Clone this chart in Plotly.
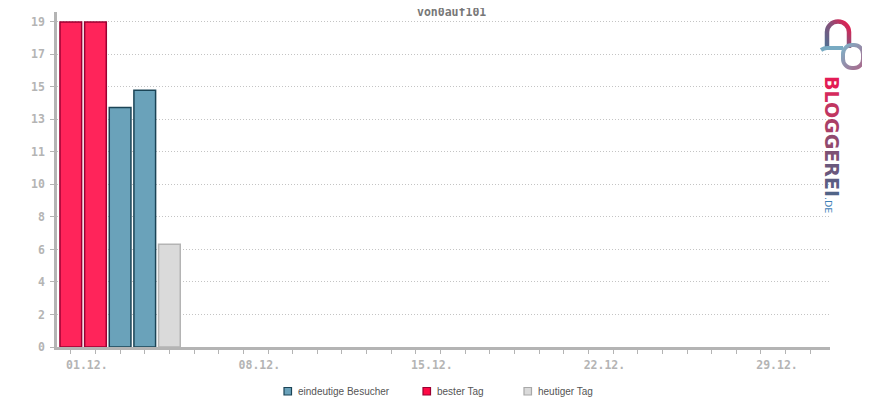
import base64
import plotly.graph_objects as go

# ---- data ----
title_text = "von0auf101"
days = list(range(1, 32))
best_days = [1, 2]
best_vals = [19, 19]
visitor_days = [3, 4]
visitor_vals = [14, 15]
today_days = [5]
today_vals = [6]
x_label_days = [1, 8, 15, 22, 29]
x_labels = ["01.12.", "08.12.", "15.12.", "22.12.", "29.12."]
y_tick_vals = [0, 1.9, 3.8, 5.7, 7.6, 9.5, 11.4, 13.3, 15.2, 17.1, 19]
y_tick_text = ["0", "2", "4", "6", "8", "10", "11", "13", "15", "17", "19"]
legend_names = ["eindeutige Besucher", "bester Tag", "heutiger Tag"]

OFF = 8  # page body margin
W, H = 870 - OFF, 400 - OFF
L, R, T, B = 57 - OFF, 40, 12 - OFF, 53
PW, PH = W - L - R, H - T - B
PLOT_LEFT, PLOT_BOTTOM = 57, 347  # in page pixels


def px(xp):
    return (xp - PLOT_LEFT) / PW


def py(yp):
    return (PLOT_BOTTOM - yp) / PH


MONO = "DejaVu Sans Mono"
TICKC = "#b4b4b4"

fig = go.Figure()
bw = 0.88
fig.add_trace(go.Bar(x=best_days, y=best_vals, width=bw, name=legend_names[1],
                     marker=dict(color="#ff245a", line=dict(color="#9a0032", width=1.5))))
fig.add_trace(go.Bar(x=visitor_days, y=visitor_vals, width=bw, name=legend_names[0],
                     marker=dict(color="#6aa2ba", line=dict(color="#1b4456", width=1.5))))
fig.add_trace(go.Bar(x=today_days, y=today_vals, width=bw, name=legend_names[2],
                     marker=dict(color="#dadada", line=dict(color="#b4b4b4", width=1.5))))

tick_text_x = [x_labels[x_label_days.index(d)] if d in x_label_days else "" for d in days]

fig.update_layout(
    width=W, height=H,
    margin=dict(l=L, r=R, t=T, b=B, pad=0),
    paper_bgcolor="white", plot_bgcolor="white",
    showlegend=False, barmode="overlay",
    xaxis=dict(range=[0.44, 31.8], tickmode="array", tickvals=days, ticktext=tick_text_x,
               ticks="outside", ticklen=4, tickcolor=TICKC, tickwidth=1,
               showline=True, linecolor=TICKC, linewidth=2.5, showgrid=False,
               zeroline=False, ticklabelshift=16, ticklabelstandoff=1,
               tickfont=dict(family=MONO, size=11.5, color=TICKC, weight="bold")),
    yaxis=dict(range=[0, 19.58], tickmode="array", tickvals=y_tick_vals, ticktext=y_tick_text,
               ticks="outside", ticklen=4, tickcolor=TICKC, tickwidth=1,
               showline=True, linecolor=TICKC, linewidth=2.5,
               showgrid=True, gridcolor="#c4c4c4", griddash="1px,2px", gridwidth=1,
               zeroline=False, ticklabelstandoff=3,
               tickfont=dict(family=MONO, size=11.5, color=TICKC, weight="bold")),
)

annotations = [
    dict(text=title_text, x=px(451), y=py(12), xref="paper", yref="paper",
         showarrow=False, xanchor="center", yanchor="middle",
         font=dict(family=MONO, size=11.5, color="#777777", weight="bold")),
]

# manual legend
leg_items = [
    (284, legend_names[0], "#6aa2ba", "#1b4456"),
    (423, legend_names[1], "#ff0a45", "#9a0032"),
    (524, legend_names[2], "#dadada", "#a8a8a8"),
]
shapes = []
for xs, name, fill, edge in leg_items:
    shapes.append(dict(type="rect", xref="paper", yref="paper",
                       x0=px(xs), x1=px(xs + 7.5), y0=py(395), y1=py(387.5),
                       fillcolor=fill, line=dict(color=edge, width=1.2)))
    annotations.append(dict(text=name, x=px(xs + 11.5), y=py(391.5), xref="paper", yref="paper",
                            showarrow=False, xanchor="left", yanchor="middle",
                            font=dict(family="Liberation Sans", size=10, color="#555555")))

# logo text
letters = "BLOGGEREI"
letter_cols = ["#e31c55", "#d52a5c", "#c13661", "#a94067", "#914a6e",
               "#7c5275", "#6a587c", "#5c5e83", "#516487"]
logo_text = "".join(f"<span style='color:{c}'>{ch}</span>" for ch, c in zip(letters, letter_cols))
annotations.append(dict(text=logo_text, x=px(832.5), y=py(136.5), xref="paper", yref="paper",
                        showarrow=False, xanchor="center", yanchor="middle", textangle=90,
                        font=dict(family="DejaVu Sans", size=19, weight="bold")))
annotations.append(dict(text=".DE", x=px(829), y=py(205), xref="paper", yref="paper",
                        showarrow=False, xanchor="center", yanchor="middle", textangle=90,
                        font=dict(family="DejaVu Sans", size=9.5, color="#3d80b6")))

# logo link graphic as svg image
svg = """<svg xmlns='http://www.w3.org/2000/svg' width='50' height='56' viewBox='0 0 50 56'>
<defs>
<linearGradient id='g1' x1='0' y1='1' x2='1' y2='0'>
<stop offset='0' stop-color='#4f6f92'/><stop offset='0.55' stop-color='#8a4f78'/><stop offset='1' stop-color='#f0174a'/></linearGradient>
<linearGradient id='g2' x1='0' y1='0' x2='1' y2='1'>
<stop offset='0' stop-color='#7fb2c8'/><stop offset='1' stop-color='#a9678a'/></linearGradient>
</defs>
<path d='M 9 31 L 9 15 A 11 10.5 0 0 1 31 15 L 31 31' fill='none' stroke='url(#g1)' stroke-width='4.5'/>
<path d='M 3 33 Q 6 31 9 31 L 25 31' fill='none' stroke='#78aac2' stroke-width='4'/>
<rect x='25' y='28' width='20' height='23' rx='9' ry='9' fill='none' stroke='url(#g2)' stroke-width='4'/>
</svg>"""
src = "data:image/svg+xml;base64," + base64.b64encode(svg.encode()).decode()

fig.update_layout(
    annotations=annotations, shapes=shapes,
    images=[dict(source=src, xref="paper", yref="paper", x=px(818), y=py(17),
                 sizex=50 / PW, sizey=56 / PH, xanchor="left", yanchor="top",
                 sizing="stretch", layer="above")],
)

fig.write_html("out.html")
